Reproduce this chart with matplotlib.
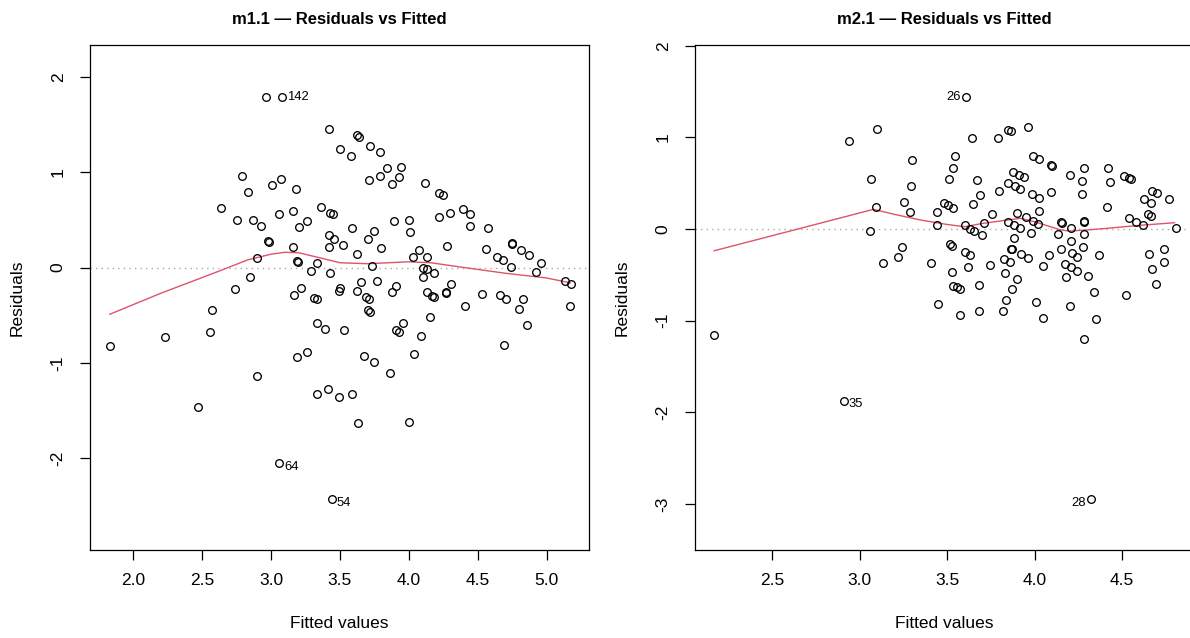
import matplotlib
matplotlib.use("Agg")
import matplotlib.pyplot as plt

plt.rcParams['font.family'] = ['Liberation Sans', 'DejaVu Sans']

# m1.1 : fitted values / residuals
m1_fitted = [1.83, 2.23, 2.47, 2.56, 2.573, 2.636, 2.735, 2.75, 2.79, 2.835,
             2.85, 2.87, 2.90, 2.90, 2.93, 2.96, 2.98, 2.985, 3.01, 3.06,
             3.06, 3.075, 3.08, 3.16, 3.16, 3.165, 3.18, 3.19, 3.195, 3.19,
             3.20, 3.216, 3.26, 3.26, 3.29, 3.31, 3.33, 3.335, 3.33, 3.33,
             3.36, 3.39, 3.41, 3.42, 3.42, 3.42, 3.43, 3.43, 3.44, 3.446,
             3.46, 3.49, 3.49, 3.50, 3.50, 3.52, 3.53, 3.58, 3.584, 3.59,
             3.62, 3.64, 3.62, 3.62, 3.633, 3.65, 3.676, 3.686, 3.705, 3.706,
             3.71, 3.71, 3.72, 3.72, 3.73, 3.75, 3.75, 3.766, 3.79, 3.79,
             3.80, 3.84, 3.86, 3.875, 3.88, 3.89, 3.91, 3.91, 3.93, 3.93,
             3.945, 3.96, 3.998, 4.0, 4.01, 4.028, 4.04, 4.075, 4.09, 4.10,
             4.10, 4.116, 4.13, 4.18, 4.13, 4.135, 4.15, 4.17, 4.18, 4.218,
             4.22, 4.247, 4.266, 4.27, 4.277, 4.30, 4.305, 4.39, 4.406, 4.44,
             4.445, 4.53, 4.56, 4.576, 4.64, 4.66, 4.685, 4.69, 4.707, 4.74,
             4.745, 4.75, 4.80, 4.81, 4.83, 4.86, 4.87, 4.92, 4.96, 5.13,
             5.18, 5.17]
m1_resid = [-0.824, -0.726, -1.467, -0.677, -0.446, 0.62, -0.229, 0.50, 0.96, 0.79,
            -0.096, 0.50, 0.10, -1.14, 0.44, 1.79, 0.275, 0.265, 0.87, 0.565,
            -2.055, 0.93, 1.79, 0.59, 0.215, -0.285, 0.82, 0.065, 0.055, -0.936,
            0.425, -0.22, 0.49, -0.887, -0.037, -0.317, -0.334, 0.05, -0.58, -1.33,
            0.632, -0.64, -1.278, 1.456, 0.34, 0.215, 0.575, -0.054, -2.43, 0.558,
            0.295, -0.246, -1.36, 1.247, -0.22, 0.236, -0.656, 1.167, -1.33, 0.41,
            1.387, 1.37, 0.14, -0.243, -1.63, -0.152, -0.925, -0.313, 0.295, -0.446,
            0.918, -0.33, 1.275, -0.467, 0.02, 0.383, -0.995, -0.138, 1.21, 0.963,
            0.20, 1.04, -1.107, -0.254, 0.873, 0.49, -0.19, -0.656, 0.946, -0.68,
            1.058, -0.586, -1.62, 0.50, 0.37, 0.11, -0.91, 0.18, -0.715, 0.0,
            -0.096, 0.883, -0.02, -0.054, 0.113, -0.26, -0.52, -0.296, -0.306, 0.785,
            0.533, 0.757, -0.26, -0.27, 0.226, 0.575, -0.176, 0.61, -0.404, 0.56,
            0.435, -0.278, 0.194, 0.42, 0.113, -0.285, 0.075, -0.817, -0.33, 0.008,
            0.254, 0.245, -0.43, 0.18, -0.33, -0.607, 0.13, -0.044, 0.044, -0.14,
            -0.17, -0.40]
m1_smooth_x = [1.83, 2.2, 2.6, 2.83, 3.0, 3.1, 3.2, 3.36, 3.5, 3.7, 4.0, 4.16, 4.4, 4.7, 5.0, 5.17]
m1_smooth_y = [-0.49, -0.27, -0.05, 0.08, 0.14, 0.16, 0.155, 0.10, 0.05, 0.04, 0.06, 0.05, 0.0, -0.06, -0.11, -0.16]
m1_ids = ["142", "64", "54"]
m1_id_x = [3.08, 3.06, 3.44]
m1_id_y = [1.79, -2.055, -2.43]

# m2.1
m2_fitted = [2.17, 2.91, 2.94, 3.06, 3.066, 3.096, 3.10, 3.134, 3.22, 3.245,
             3.256, 3.29, 3.296, 3.30, 3.41, 3.44, 3.445, 3.45, 3.48, 3.507,
             3.513, 3.517, 3.527, 3.528, 3.536, 3.536, 3.536, 3.546, 3.555, 3.576,
             3.576, 3.60, 3.603, 3.609, 3.62, 3.63, 3.63, 3.64, 3.65, 3.654,
             3.67, 3.68, 3.68, 3.69, 3.70, 3.71, 3.747, 3.755, 3.79, 3.795,
             3.818, 3.827, 3.83, 3.839, 3.85, 3.85, 3.85, 3.86, 3.864, 3.864,
             3.87, 3.873, 3.875, 3.88, 3.883, 3.89, 3.90, 3.90, 3.913, 3.917,
             3.917, 3.92, 3.94, 3.95, 3.96, 3.96, 3.98, 3.984, 3.99, 3.993,
             4.01, 4.02, 4.024, 4.026, 4.027, 4.049, 4.05, 4.083, 4.094, 4.098,
             4.096, 4.136, 4.151, 4.155, 4.153, 4.174, 4.18, 4.20, 4.205, 4.207,
             4.209, 4.209, 4.213, 4.241, 4.245, 4.27, 4.273, 4.275, 4.28, 4.281,
             4.285, 4.281, 4.281, 4.307, 4.323, 4.342, 4.353, 4.37, 4.414, 4.42,
             4.43, 4.51, 4.525, 4.538, 4.538, 4.551, 4.58, 4.618, 4.627, 4.649,
             4.656, 4.667, 4.667, 4.673, 4.673, 4.694, 4.70, 4.74, 4.74, 4.769,
             4.807]
m2_resid = [-1.157, -1.874, 0.957, -0.018, 0.55, 0.24, 1.088, -0.368, -0.31, -0.193,
            0.295, 0.19, 0.47, 0.753, -0.368, 0.186, 0.044, -0.822, 0.287, 0.265,
            0.55, -0.167, -0.469, -0.189, 0.233, 0.662, -0.619, 0.797, -0.637, -0.658,
            -0.942, 0.04, -0.247, 1.444, -0.41, 0.003, -0.28, 0.993, 0.27, -0.022,
            0.535, -0.615, -0.90, 0.375, -0.066, 0.069, -0.393, 0.167, 0.99, 0.415,
            -0.891, -0.328, -0.477, -0.771, 1.08, 0.506, 0.076, -0.357, 1.066, -0.222,
            -0.215, -0.658, 0.622, 0.047, -0.098, 0.473, 0.171, -0.542, 0.593, 0.44,
            0.011, -0.27, 0.568, 0.128, 1.11, -0.317, -0.047, 0.382, 0.087, 0.797,
            -0.793, 0.058, 0.193, 0.768, 0.335, -0.404, -0.975, -0.284, 0.70, 0.69,
            0.407, -0.058, 0.073, 0.065, -0.222, -0.382, -0.527, -0.837, 0.59, 0.014,
            -0.13, -0.41, -0.265, -0.306, -0.455, 0.524, 0.379, -0.197, 0.662, 0.084,
            0.075, -0.058, -1.20, -0.513, -2.95, -0.688, -0.986, -0.28, 0.244, 0.666,
            0.51, 0.58, -0.72, 0.557, 0.123, 0.542, 0.08, 0.044, 0.324, 0.164,
            -0.276, 0.28, 0.145, 0.418, -0.433, -0.597, 0.393, -0.215, -0.357, 0.331,
            0.007]
m2_smooth_x = [2.17, 3.08, 3.2, 3.35, 3.5, 3.6, 3.7, 3.85, 3.92, 4.0, 4.15, 4.2, 4.3, 4.41, 4.6, 4.8]
m2_smooth_y = [-0.237, 0.215, 0.16, 0.098, 0.05, 0.025, 0.06, 0.10, 0.117, 0.08, -0.01, -0.022, -0.01, 0.007, 0.04, 0.069]
m2_ids = ["26", "35", "28"]
m2_id_x = [3.609, 2.91, 4.323]
m2_id_y = [1.444, -1.874, -2.95]

panels = [
    ("m1.1 \u2014 Residuals vs Fitted", m1_fitted, m1_resid, m1_smooth_x, m1_smooth_y,
     m1_ids, m1_id_x, m1_id_y, (1.686, 5.307), (-2.964, 2.335),
     [2.0, 2.5, 3.0, 3.5, 4.0, 4.5, 5.0], [-2, -1, 0, 1, 2], 90),
    ("m2.1 \u2014 Residuals vs Fitted", m2_fitted, m2_resid, m2_smooth_x, m2_smooth_y,
     m2_ids, m2_id_x, m2_id_y, (2.06, 4.911), (-3.504, 2.009),
     [2.5, 3.0, 3.5, 4.0, 4.5], [-3, -2, -1, 0, 1, 2], 695),
]

W, H = 1190, 638
fig = plt.figure(figsize=(W / 100, H / 100), dpi=100)

for title, fx, rs, sx, sy, ids, idx, idy, xlim, ylim, xt, yt, left in panels:
    ax = fig.add_axes([left / W, 88 / H, 499 / W, 505 / H])
    ax.axhline(0, color='#a9a9a9', lw=1.0, ls=(0, (1, 3)), zorder=1)
    ax.plot(fx, rs, 'o', mfc='none', mec='black', ms=5.5, mew=0.95, zorder=3)
    ax.plot(sx, sy, '-', color='#DF536B', lw=1.0, zorder=2)
    mid = (min(fx) + max(fx)) / 2
    for lab, x, y in zip(ids, idx, idy):
        dx = 3.5 if x < mid else -3.5
        dy = -2.5 if y < 0 else 0
        ax.annotate(lab, (x, y), xytext=(dx, dy), textcoords='offset points',
                    ha='left' if x < mid else 'right', va='center', fontsize=9.4)
    ax.set_xlim(*xlim)
    ax.set_ylim(*ylim)
    ax.set_xticks(xt)
    ax.set_xticklabels(['%.1f' % v for v in xt])
    ax.set_yticks(yt)
    ax.set_yticklabels([str(v) for v in yt])
    ax.tick_params(direction='out', length=7.5, width=0.9, labelsize=12.5)
    ax.tick_params(axis='x', pad=9)
    ax.tick_params(axis='y', labelrotation=90, pad=10)
    for lbl in ax.get_yticklabels():
        lbl.set_verticalalignment('center')
    for s in ax.spines.values():
        s.set_linewidth(0.9)
    ax.set_xlabel("Fitted values", fontsize=12.5, va='center')
    ax.xaxis.set_label_coords(0.5, -74 / 505)
    ax.set_ylabel("Residuals", fontsize=12.5, va='center', ha='center')
    ax.yaxis.set_label_coords(-73 / 499, 0.5)
    fig.text((left + 249.5) / W, 1 - 19 / H, title, ha='center', va='center',
             fontsize=12, fontweight='bold')

fig.savefig("out.png", dpi=100)
